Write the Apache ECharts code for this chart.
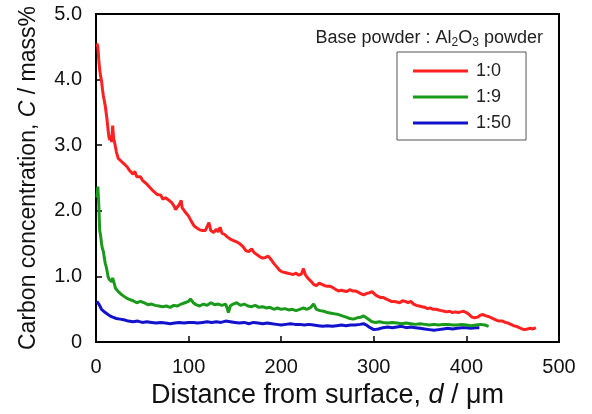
<!DOCTYPE html>
<html>
<head>
<meta charset="utf-8">
<script src="https://cdn.jsdelivr.net/npm/echarts@6/dist/echarts.min.js"></script>
<style>html,body{margin:0;padding:0;background:#fff}#c{width:592px;height:414px}</style>
</head>
<body>
<div id="c"></div>
<script>
// Series 1:0 (red)
const dRed = [1,2,3,4,5,6,7,8,10,12,13,14,15,16,17,18,19,20,21,22,24,27,30,33,36,38,40,42,44,46,48,50,52,54,56,58,60,62,64,66,68,70,72,75,78,80,82,84,86,88,90,92,93,95,97,100,103,106,109,112,115,118,120,122,124,127,130,132,134,136,139,142,145,148,150,153,156,159,162,165,168,171,174,177,180,183,186,189,192,195,198,201,204,207,210,213,216,219,222,224,226,229,232,235,238,241,244,247,250,253,256,259,262,265,268,271,274,277,280,283,286,289,292,295,298,301,304,307,310,313,316,319,322,325,328,331,334,337,340,343,346,349,352,355,358,361,364,367,370,373,376,379,382,385,388,391,394,397,400,403,406,409,412,415,418,421,424,427,430,433,436,439,442,445,448,451,454,457,460,463,466,469,472,475];
const cRed = [4.55,4.5,4.3,4.15,4.05,3.98,3.85,3.75,3.6,3.38,3.24,3.12,3.08,3.15,3.05,3.3,3.1,3.05,3.02,2.9,2.8,2.76,2.72,2.68,2.62,2.6,2.56,2.6,2.52,2.5,2.52,2.47,2.45,2.42,2.4,2.36,2.38,2.3,2.28,2.25,2.22,2.24,2.18,2.2,2.17,2.18,2.12,2.08,2.02,2.06,2.1,2.16,2.05,2.02,1.97,1.92,1.84,1.77,1.74,1.71,1.7,1.7,1.72,1.82,1.7,1.67,1.72,1.68,1.75,1.66,1.64,1.6,1.57,1.55,1.54,1.52,1.49,1.45,1.39,1.38,1.42,1.36,1.33,1.3,1.28,1.29,1.31,1.26,1.2,1.15,1.1,1.07,1.06,1.05,1.04,1.03,1.05,1.02,1.04,1.12,1.03,0.97,0.93,0.88,0.86,0.9,0.88,0.86,0.85,0.85,0.83,0.8,0.78,0.79,0.78,0.77,0.8,0.78,0.78,0.76,0.74,0.72,0.74,0.75,0.77,0.73,0.7,0.68,0.68,0.66,0.64,0.62,0.62,0.61,0.6,0.63,0.62,0.6,0.62,0.58,0.56,0.55,0.54,0.53,0.51,0.52,0.5,0.5,0.49,0.48,0.47,0.46,0.47,0.45,0.46,0.45,0.46,0.47,0.45,0.42,0.38,0.37,0.38,0.41,0.42,0.4,0.39,0.37,0.35,0.33,0.32,0.32,0.3,0.29,0.27,0.25,0.24,0.22,0.2,0.19,0.2,0.21,0.2,0.22];
// Series 1:9 (green)
const dGreen = [1,2,3,4,5,6,7,8,9,10,11,12,13,14,15,16,17,18,19,20,21,22,24,26,28,30,33,36,40,44,48,52,56,60,64,68,72,76,80,84,88,92,96,100,102,105,108,112,116,120,124,128,132,136,140,142,143,145,148,152,156,160,164,168,172,176,180,184,188,192,196,200,204,208,212,216,220,224,228,232,235,238,242,246,250,254,258,262,266,270,274,278,282,286,289,292,295,298,302,306,310,315,320,325,330,335,340,345,350,355,360,365,370,375,380,385,390,395,400,405,410,415,420,424];
const cGreen = [2.2,2.37,2.1,1.7,1.62,1.5,1.42,1.38,1.28,1.2,1.15,1.08,1.0,0.96,0.94,0.95,0.92,0.98,0.96,0.88,0.82,0.8,0.77,0.75,0.72,0.7,0.67,0.65,0.63,0.6,0.62,0.6,0.57,0.58,0.56,0.55,0.54,0.55,0.53,0.56,0.55,0.58,0.6,0.62,0.66,0.6,0.57,0.55,0.58,0.56,0.6,0.57,0.58,0.56,0.58,0.5,0.45,0.55,0.58,0.6,0.56,0.58,0.55,0.54,0.56,0.53,0.54,0.52,0.53,0.5,0.52,0.5,0.51,0.49,0.5,0.48,0.5,0.52,0.5,0.53,0.58,0.5,0.48,0.47,0.45,0.44,0.43,0.42,0.4,0.38,0.36,0.35,0.37,0.38,0.4,0.37,0.34,0.31,0.3,0.31,0.3,0.29,0.3,0.29,0.28,0.29,0.28,0.27,0.28,0.27,0.26,0.27,0.26,0.27,0.27,0.26,0.26,0.27,0.26,0.25,0.26,0.27,0.26,0.24];
// Series 1:50 (blue)
const dBlue = [1,2,3,4,6,8,10,12,15,18,22,26,30,35,40,45,50,55,60,65,70,75,80,85,90,95,100,105,110,115,120,125,130,135,140,145,150,155,160,165,170,175,180,185,190,195,200,205,210,215,220,225,230,235,240,245,250,255,260,265,270,275,280,285,289,292,296,300,305,310,315,320,325,330,335,340,345,350,355,360,365,370,375,380,385,390,395,400,405,410,414];
const cBlue = [0.62,0.64,0.58,0.55,0.5,0.47,0.45,0.43,0.4,0.38,0.36,0.35,0.34,0.32,0.31,0.32,0.3,0.31,0.3,0.29,0.3,0.29,0.28,0.29,0.3,0.29,0.3,0.3,0.29,0.3,0.31,0.3,0.31,0.3,0.32,0.31,0.3,0.29,0.3,0.28,0.3,0.29,0.28,0.29,0.28,0.27,0.26,0.27,0.28,0.27,0.27,0.26,0.27,0.26,0.25,0.24,0.25,0.24,0.25,0.26,0.25,0.26,0.26,0.27,0.28,0.26,0.22,0.19,0.2,0.22,0.23,0.22,0.23,0.24,0.22,0.23,0.22,0.21,0.2,0.19,0.18,0.19,0.2,0.21,0.2,0.21,0.22,0.22,0.21,0.22,0.22];

const seriesNames = ['1:0','1:9','1:50'];
const seriesColors = ['#ff2020','#1a9a1a','#1212cc'];
const xTicks = [0,100,200,300,400,500];
const yTicks = [0,1,2,3,4,5];

function pairs(d,c){ return d.map((v,i)=>[v,c[i]]); }
const font = 'Arial, "Liberation Sans", Helvetica, sans-serif';
const chart = echarts.init(document.getElementById('c'));
chart.setOption({
  backgroundColor:'#fff',
  animation:false,
  title:{
    text:'{a|Base powder : Al}{s|2}{a|O}{s|3}{a| powder}',
    right:44, top:22,
    textStyle:{
      fontWeight:'normal',
      rich:{
        a:{fontFamily:font,fontSize:18,fontWeight:'normal',color:'#222',lineHeight:22,verticalAlign:'middle'},
        s:{fontFamily:font,fontSize:12,fontWeight:'normal',color:'#222',lineHeight:22,verticalAlign:'bottom',padding:[10,0,0,0]}
      }
    }
  },
  legend:{
    data:seriesNames,
    orient:'vertical',
    left:397, top:52,
    borderColor:'#555', borderWidth:1,
    padding:[10,15,8,16],
    itemWidth:55, itemHeight:3, itemGap:8,
    icon:'rect',
    textStyle:{fontFamily:font,fontSize:18,color:'#222',padding:[0,0,0,3]}
  },
  grid:{left:96,top:14,right:33,bottom:71,show:true,borderColor:'#000',borderWidth:2,backgroundColor:'transparent'},
  xAxis:{
    type:'value',min:xTicks[0],max:xTicks[xTicks.length-1],interval:100,
    name:'{n|Distance from surface, }{i|d}{n| / μm}',
    nameLocation:'middle',nameGap:35,
    nameTextStyle:{rich:{n:{fontFamily:font,fontSize:27,color:'#111'},i:{fontFamily:font,fontSize:27,fontStyle:'italic',color:'#111'}}},
    axisLine:{lineStyle:{color:'#000',width:2}},
    axisTick:{inside:true,length:6,lineStyle:{color:'#000',width:1.5}},
    axisLabel:{fontFamily:font,fontSize:20,color:'#111',margin:15},
    splitLine:{show:false}
  },
  yAxis:{
    type:'value',min:yTicks[0],max:yTicks[yTicks.length-1],interval:1,
    name:'{n|Carbon concentration, }{i|C}{n| / mass%}',
    nameLocation:'middle',nameGap:56,
    nameTextStyle:{rich:{n:{fontFamily:font,fontSize:23,color:'#111'},i:{fontFamily:font,fontSize:23,fontStyle:'italic',color:'#111'}}},
    axisLine:{lineStyle:{color:'#000',width:2}},
    axisTick:{inside:true,length:6,lineStyle:{color:'#000',width:1.5}},
    axisLabel:{fontFamily:font,fontSize:20,color:'#111',margin:14,formatter:v=>v===0?'0':v.toFixed(1)},
    splitLine:{show:false}
  },
  series:[
    {name:seriesNames[0],type:'line',data:pairs(dRed,cRed),showSymbol:false,lineStyle:{color:seriesColors[0],width:3},itemStyle:{color:seriesColors[0]},z:3},
    {name:seriesNames[1],type:'line',data:pairs(dGreen,cGreen),showSymbol:false,lineStyle:{color:seriesColors[1],width:3},itemStyle:{color:seriesColors[1]},z:2},
    {name:seriesNames[2],type:'line',data:pairs(dBlue,cBlue),showSymbol:false,lineStyle:{color:seriesColors[2],width:3},itemStyle:{color:seriesColors[2]},z:1}
  ]
});
</script>
</body>
</html>
